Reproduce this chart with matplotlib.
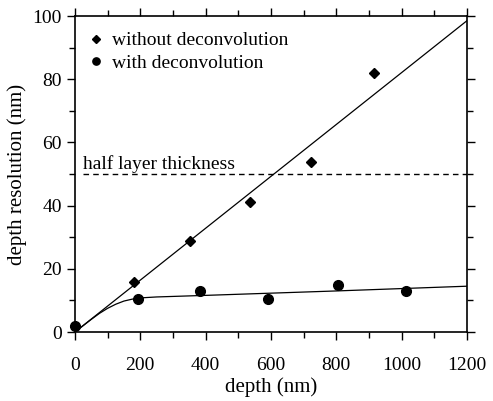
import matplotlib
matplotlib.use("Agg")
import matplotlib.pyplot as plt
from matplotlib.ticker import MultipleLocator

plt.rcParams['font.family'] = ['Liberation Serif', 'DejaVu Serif']

# measured points
depth_wo = [0, 182, 352, 536, 723, 917]
res_wo = [2, 15.8, 28.9, 41.2, 53.8, 82]
depth_w = [0, 194, 383, 590, 804, 1013]
res_w = [1.9, 10.3, 13.1, 10.5, 15.0, 13.1]

# fitted lines
fit_lin_x = [0, 1200]
fit_lin_y = [0, 98.5]
fit_dec_x = [0, 25, 50, 75, 100, 125, 150, 175, 200, 250, 400, 800, 1200]
fit_dec_y = [0, 2.0, 4.0, 5.9, 7.5, 8.8, 9.8, 10.4, 10.8, 11.1, 11.6, 13.0, 14.5]

half_layer = 50

fig = plt.figure(figsize=(4.93, 4.01), dpi=100)
ax = fig.add_axes([0.152, 0.172, 0.795, 0.788])

ax.plot(fit_lin_x, fit_lin_y, color='black', lw=0.9)
ax.plot(fit_dec_x, fit_dec_y, color='black', lw=0.9)
ax.plot([25, 1200], [half_layer, half_layer], color='black', lw=1.0,
        linestyle=(0, (4, 3)))
ax.text(25, half_layer + 0.4, 'half layer thickness', fontsize=14,
        ha='left', va='bottom')

ax.plot(depth_wo, res_wo, linestyle='none', marker='D', ms=5,
        color='black', label='without deconvolution', clip_on=False)
ax.plot(depth_w, res_w, linestyle='none', marker='o', ms=7,
        color='black', label='with deconvolution', clip_on=False)

leg = ax.legend(loc='upper left', bbox_to_anchor=(0.02, 0.975), frameon=False,
                fontsize=14, handlelength=0.6, handletextpad=0.5,
                labelspacing=0.25, borderaxespad=0, markerscale=0.75)

ax.set_xlim(0, 1200)
ax.set_ylim(0, 100)
ax.xaxis.set_major_locator(MultipleLocator(200))
ax.xaxis.set_minor_locator(MultipleLocator(100))
ax.yaxis.set_major_locator(MultipleLocator(20))
ax.yaxis.set_minor_locator(MultipleLocator(10))
ax.tick_params(which='both', direction='out', top=True, right=True,
               labeltop=False, labelright=False, width=1.0)
ax.tick_params(which='major', length=6, labelsize=14)
ax.tick_params(which='minor', length=4)
ax.tick_params(axis='x', which='major', pad=12)
for s in ax.spines.values():
    s.set_linewidth(1.2)

ax.set_xlabel('depth (nm)', fontsize=15, labelpad=2)
ax.set_ylabel('depth resolution (nm)', fontsize=15, labelpad=4)

fig.savefig('out.png', dpi=100)
